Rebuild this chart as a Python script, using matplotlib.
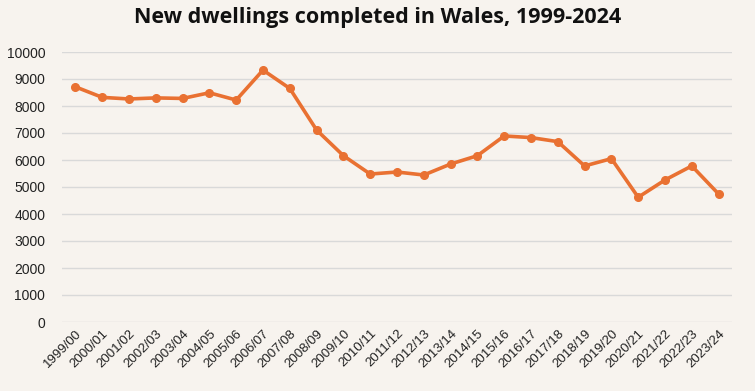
import matplotlib
matplotlib.use("Agg")
import matplotlib.pyplot as plt

categories = ["1999/00", "2000/01", "2001/02", "2002/03", "2003/04", "2004/05",
              "2005/06", "2006/07", "2007/08", "2008/09", "2009/10", "2010/11",
              "2011/12", "2012/13", "2013/14", "2014/15", "2015/16", "2016/17",
              "2017/18", "2018/19", "2019/20", "2020/21", "2021/22", "2022/23",
              "2023/24"]
completions = [8710, 8320, 8260, 8300, 8280, 8490, 8220, 9330, 8650, 7110,
               6160, 5480, 5555, 5444, 5850, 6160, 6890, 6830, 6680, 5780,
               6050, 4620, 5260, 5780, 4740]
y_ticks = list(range(0, 10001, 1000))

bg = "#F7F3EE"
line_color = "#E97132"

fig = plt.figure(figsize=(7.55, 3.91), dpi=100, facecolor=bg)
ax = fig.add_axes([62/755, 1-322/391, 670/755, 270/391])
ax.set_facecolor(bg)

x = list(range(len(categories)))
ax.plot(x, completions, color=line_color, linewidth=2.6, marker="o",
        markersize=5.5, zorder=3)

ax.set_xlim(-0.5, len(categories) - 0.5)
ax.set_ylim(0, 10000)
ax.set_yticks(y_ticks)
ax.set_yticklabels([str(v) for v in y_ticks], fontsize=10, color="#222222",
                   family="Liberation Sans")
ax.set_xticks(x)
ax.set_xticklabels(categories, rotation=45, ha="right", rotation_mode="anchor",
                   fontsize=9.5, color="#222222", family="Liberation Sans")
ax.tick_params(axis="both", length=0)
ax.tick_params(axis="y", pad=12)
ax.tick_params(axis="x", pad=4)
ax.grid(axis="y", color="#D9D9D9", linewidth=1)
ax.set_axisbelow(True)
for s in ax.spines.values():
    s.set_visible(False)

fig.text(0.5, 1-18/391, "New dwellings completed in Wales, 1999-2024",
         ha="center", va="center", fontsize=15.5, fontweight="bold",
         family="Open Sans", color="#111111")

fig.savefig("out.png", dpi=100, facecolor=bg)
